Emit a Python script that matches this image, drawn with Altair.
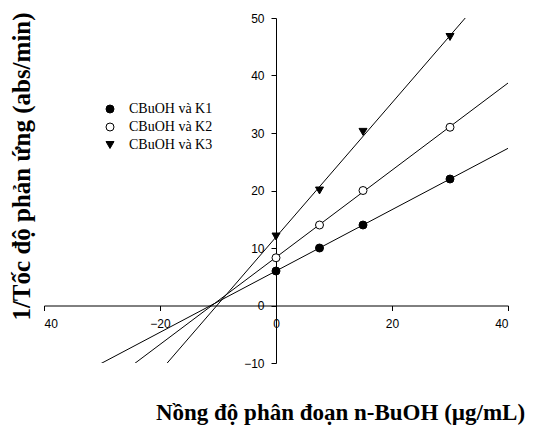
import altair as alt
import pandas as pd

conc = [0, 7.5, 15, 30]
k1 = [6.0, 10.0, 14.0, 22.0]
k2 = [8.3, 14.0, 20.0, 31.0]
k3 = [12.0, 20.0, 30.2, 46.7]
series = ["CBuOH và K1", "CBuOH và K2", "CBuOH và K3"]
x_ticks = [-40, -20, 0, 20, 40]
y_ticks = [-10, 0, 10, 20, 30, 40, 50]

rows = []
for name, vals in zip(series, [k1, k2, k3]):
    for c, v in zip(conc, vals):
        rows.append({"x": c, "y": v, "series": name})
df = pd.DataFrame(rows)

W, H = 464, 345
xscale = alt.Scale(domain=[-40, 40], nice=False, zero=False)
yscale = alt.Scale(domain=[-10, 50], nice=False, zero=False)
y0_offset = -H * 10 / 60
x0_offset = -W * 40 / 80

xaxis = alt.Axis(
    values=x_ticks, labelExpr="datum.value == -40 ? '40' : datum.label",
    offset=y0_offset, grid=False, tickSize=5, domainColor="black", tickColor="black",
    labelColor="black", labelFont="Liberation Sans", labelFontSize=12, labelPadding=8,
    title="Nồng độ phân đoạn n-BuOH (µg/mL)", titleFont="Liberation Serif",
    titleFontSize=23, titleFontWeight="bold", titleColor="black",
    titleX=296, titleY=114, titleBaseline="alphabetic", titleAnchor="middle",
)
yaxis = alt.Axis(
    values=y_ticks, offset=x0_offset, grid=False, tickSize=5, domainColor="black",
    tickColor="black", labelColor="black", labelFont="Liberation Sans", labelFontSize=12,
    labelPadding=7,
    title="1/Tốc độ phản ứng (abs/min)", titleFont="Liberation Serif",
    titleFontSize=25, titleFontWeight="bold", titleColor="black",
    titleX=-255, titleY=148, titleBaseline="middle", titleAnchor="middle",
)

legend = alt.Legend(title=None, orient="none", legendX=59, legendY=84,
                    labelFont="Liberation Serif", labelFontSize=14,
                    labelColor="black", symbolSize=64, symbolStrokeWidth=1,
                    labelOffset=12, rowPadding=4)

base = alt.Chart(df)

lines = base.transform_regression(
    "x", "y", groupby=["series"], extent=[-40, 40]
).mark_line(clip=True, color="black", strokeWidth=1).encode(
    x=alt.X("x:Q", scale=xscale, axis=xaxis),
    y=alt.Y("y:Q", scale=yscale, axis=yaxis),
    detail="series:N",
)

points = base.mark_point(filled=True, strokeWidth=1, size=64, opacity=1).encode(
    x=alt.X("x:Q", scale=xscale),
    y=alt.Y("y:Q", scale=yscale),
    shape=alt.Shape("series:N", scale=alt.Scale(domain=series, range=["circle", "circle", "triangle-down"]),
                    legend=legend),
    fill=alt.Fill("series:N", scale=alt.Scale(domain=series, range=["black", "white", "black"]),
                  legend=legend),
    stroke=alt.Stroke("series:N", scale=alt.Scale(domain=series, range=["black", "black", "black"]),
                      legend=legend),
)

chart = alt.layer(lines, points).properties(
    width=W, height=H,
    autosize=alt.AutoSizeParams(type="none"),
    padding={"left": 44, "top": 18, "right": 48, "bottom": 67},
    background="white",
).configure_view(stroke=None)

chart.save("out.html", embed_options={"renderer": "svg", "actions": False})
